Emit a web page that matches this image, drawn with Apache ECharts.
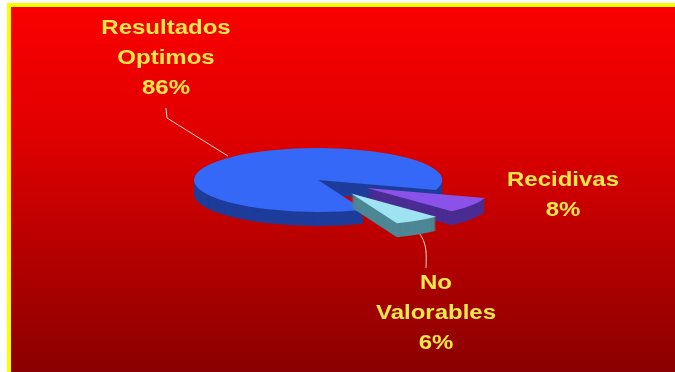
<!DOCTYPE html>
<html>
<head>
<meta charset="utf-8">
<script src="https://cdn.jsdelivr.net/npm/echarts@6/dist/echarts.min.js"></script>
<style>
  html, body { margin: 0; padding: 0; background: #ffffff; }
  #chart { width: 675px; height: 372px; }
</style>
</head>
<body>
<div id="chart"></div>
<script>
// Slices listed clockwise, starting just below the right-hand horizon
const categories = ['Recidivas', 'No\nValorables', 'Resultados\nOptimos'];
const values = [8, 6, 86];

// Colours per slice: lit top face and shaded wall
const topColors = ['#8a52e8', '#9fe2f2', '#3668f8'];
const sideColors = ['#4b2c92', '#4d8795', '#1e3c9a'];
// Which slices are pulled out of the pie, and paint order (back to front)
const explode = [58, 62, 0];
const paintOrder = [1, 2, 0];

const cx = 318, cy = 180, radius = 124, tilt = 0.258, depth = 14;
const startDeg = 18;

const total = values.reduce((a, b) => a + b, 0);
const angles = [];
let acc = startDeg;
values.forEach(v => {
  const span = v / total * 360;
  angles.push([acc, acc + span]);
  acc += span;
});

function renderSlice(params) {
  const i = params.dataIndex;
  const a0 = angles[i][0] * Math.PI / 180;
  const a1 = angles[i][1] * Math.PI / 180;
  const mid = (a0 + a1) / 2;
  const ox = cx + explode[i] * Math.cos(mid);
  const oy = cy + explode[i] * Math.sin(mid) * tilt;
  const base = paintOrder[i] * 100;
  const children = [];
  // wall: the same sector stacked downwards one pixel at a time
  for (let k = depth; k >= 1; k--) {
    children.push({
      type: 'sector',
      x: ox, y: oy + k, scaleY: tilt, z2: base + (depth - k),
      shape: { cx: 0, cy: 0, r0: 0, r: radius, startAngle: a0, endAngle: a1, clockwise: true },
      style: { fill: sideColors[i] },
      silent: true
    });
  }
  children.push({
    type: 'sector',
    x: ox, y: oy, scaleY: tilt, z2: base + 50,
    shape: { cx: 0, cy: 0, r0: 0, r: radius, startAngle: a0, endAngle: a1, clockwise: true },
    style: { fill: topColors[i] },
    silent: true
  });
  return { type: 'group', children: children };
}

// Label blocks: centre x, centre y of the whole block
const labelPos = [[563, 195], [436, 313], [166, 58]];
const labelFont = 'bold 20px "Liberation Sans", Arial, sans-serif';

const graphics = [
  { type: 'rect', shape: { x: 7, y: 3, width: 668, height: 369 }, style: { fill: '#ffff00' }, z: -10 },
  {
    type: 'rect', shape: { x: 11, y: 7, width: 664, height: 365 }, z: -9,
    style: {
      fill: new echarts.graphic.LinearGradient(0, 0, 0, 1, [
        { offset: 0, color: '#fa0000' },
        { offset: 0.35, color: '#e00000' },
        { offset: 1, color: '#8a0000' }
      ])
    }
  },
  { type: 'polyline', shape: { points: [[166, 108], [167, 118], [228, 156]] }, style: { stroke: '#ffd8d0', lineWidth: 1, fill: null }, z: 5 },
  { type: 'polyline', shape: { points: [[420, 234], [424, 242], [426, 252], [426, 268]], smooth: 0.4 }, style: { stroke: '#ffd8d0', lineWidth: 1, fill: null }, z: 5 }
];

categories.forEach((name, i) => {
  graphics.push({
    type: 'text',
    x: labelPos[i][0], y: labelPos[i][1], scaleX: 1.2, z: 6,
    style: {
      text: name + '\n' + values[i] + '%',
      font: labelFont,
      fill: '#f6e84a',
      align: 'center', textAlign: 'center',
      verticalAlign: 'middle', textVerticalAlign: 'middle',
      lineHeight: 30
    }
  });
});

const chart = echarts.init(document.getElementById('chart'), null, { renderer: 'canvas' });
chart.setOption({
  animation: false,
  graphic: graphics,
  series: [{
    type: 'custom',
    coordinateSystem: 'none',
    renderItem: renderSlice,
    data: values,
    z: 3
  }]
});
</script>
</body>
</html>
